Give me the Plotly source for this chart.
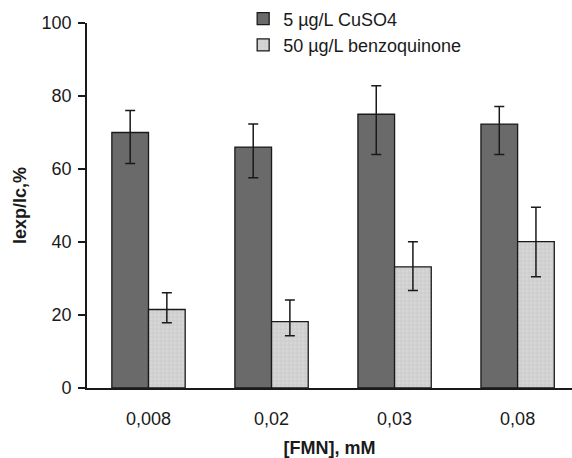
import plotly.graph_objects as go

categories = ["0,008", "0,02", "0,03", "0,08"]
series_names = ["5 µg/L CuSO4", "50 µg/L benzoquinone"]

cuso4_values = [70.0, 66.0, 75.0, 72.3]
cuso4_err_plus = [6.0, 6.3, 7.8, 4.8]
cuso4_err_minus = [8.5, 8.4, 11.0, 8.3]

bq_values = [21.5, 18.2, 33.2, 40.1]
bq_err_plus = [4.6, 5.9, 6.9, 9.4]
bq_err_minus = [3.6, 3.9, 6.5, 9.6]

y_ticks = [0, 20, 40, 60, 80, 100]

FONT = "Liberation Sans, Arial, sans-serif"
TXT = "#1a1a1a"

fig = go.Figure()
fig.add_trace(go.Bar(
    x=categories, y=cuso4_values, name=series_names[0],
    marker=dict(color="#6a6a6a", line=dict(color="#1a1a1a", width=1.3)),
    error_y=dict(type="data", symmetric=False, array=cuso4_err_plus,
                 arrayminus=cuso4_err_minus, color="#1a1a1a", thickness=1.5, width=5),
))
fig.add_trace(go.Bar(
    x=categories, y=bq_values, name=series_names[1],
    marker=dict(color="#d6d6d6", line=dict(color="#1a1a1a", width=1.3),
                pattern=dict(shape="+", fgcolor="#b4b4b4", bgcolor="#d6d6d6",
                             size=4, solidity=0.25)),
    error_y=dict(type="data", symmetric=False, array=bq_err_plus,
                 arrayminus=bq_err_minus, color="#1a1a1a", thickness=1.5, width=5),
))

fig.update_layout(
    width=572, height=458,
    margin=dict(l=87, r=0, t=23, b=70),
    paper_bgcolor="white", plot_bgcolor="white",
    barmode="group", bargap=0.404, bargroupgap=0.0,
    font=dict(family=FONT, size=18, color=TXT),
    showlegend=True,
    legend=dict(x=0.322, y=1.062, xanchor="left", yanchor="top",
                bgcolor="rgba(0,0,0,0)", font=dict(size=18, color=TXT),
                tracegroupgap=0, itemwidth=30),
    xaxis=dict(
        type="category", range=[-0.5, 3.442],
        showline=True, linecolor="#1a1a1a", linewidth=1.6,
        ticks="", showgrid=False, zeroline=False,
        ticklabelstandoff=14,
        title=dict(text="<b>[FMN], mM</b>", font=dict(size=18, color=TXT), standoff=16),
        automargin=False,
    ),
    yaxis=dict(
        range=[0, 100], tickvals=y_ticks,
        showline=True, linecolor="#1a1a1a", linewidth=1.6,
        ticks="outside", ticklen=7, tickwidth=1.6, tickcolor="#1a1a1a",
        showgrid=False, zeroline=False,
        ticklabelstandoff=3,
        title=dict(text="<b>Iexp/Ic,%</b>", font=dict(size=18, color=TXT), standoff=10),
        automargin=False,
    ),
)

fig.write_html("out.html")
